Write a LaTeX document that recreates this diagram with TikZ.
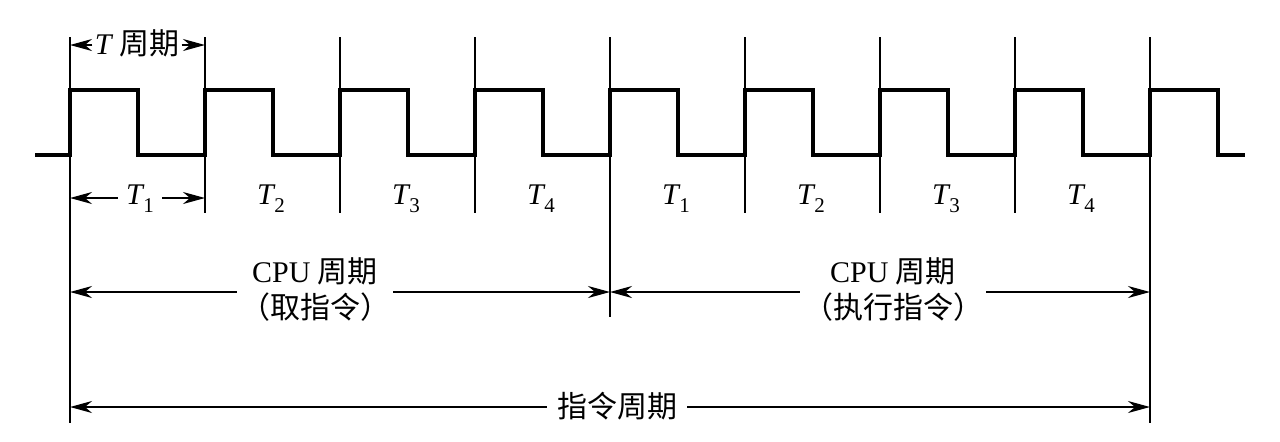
\documentclass[tikz,border=0pt]{standalone}
\usepackage{fontspec}
\setmainfont{Liberation Serif}
\newfontfamily\cjk{Noto Sans CJK SC}
\usetikzlibrary{arrows.meta}
\newcommand\Tsub[1]{\textit{T}\kern-0.04em\raisebox{-4pt}{\fontsize{10.5}{10.5}\selectfont #1}}
\begin{document}
\begin{tikzpicture}[x=0.5pt,y=-0.5pt,
  sig/.style={line width=1.6pt, line join=miter},
  tickline/.style={line width=0.8pt},
  dim/.style={line width=0.9pt, -{Stealth[length=11pt,width=6pt,inset=3.5pt]}},
  lbl/.style={font=\fontsize{15}{17}\selectfont, inner sep=1.5pt},
  big/.style={font=\fontsize{15}{18}\selectfont, inner sep=1.5pt, align=center}]
\useasboundingbox (0,0) rectangle (1280,441);

% vertical guide lines
\foreach \i in {0,...,8} {
  \coordinate (t\i) at ({70+135*\i},37);
}
\foreach \i in {1,2,3,5,6,7} { \coordinate (b\i) at ({70+135*\i},213); }
\coordinate (b0) at (70,423);
\coordinate (b4) at (610,317);
\coordinate (b8) at (1150,423);
\foreach \i in {0,...,8} { \draw[tickline] (t\i) -- (b\i); }

% clock signal
\draw[sig] (35,155) foreach \i in {0,...,8} {
   -- ({70+135*\i},155) -- ({70+135*\i},90) -- ({138+135*\i},90) -- ({138+135*\i},155) }
   -- (1245,155);

% T period
\node[lbl, inner sep=1pt] (Tp) at (137,43) {\textit{T}\kern3pt{\cjk 周期}};
\coordinate (tpL) at (70,45);
\coordinate (tpR) at (205,45);
\draw[dim] (Tp.west |- tpL) -- (tpL);
\draw[dim] (Tp.east |- tpR) -- (tpR);

% T1 with arrows
\node[lbl, inner sep=4pt] (T1a) at (140,199) {\Tsub{1}};
\coordinate (t1L) at (70,198);
\coordinate (t1R) at (205,198);
\draw[dim] (T1a.west |- t1L) -- (t1L);
\draw[dim] (T1a.east |- t1R) -- (t1R);

% other T labels
\node[lbl] (T2a) at (271,199) {\Tsub{2}};
\node[lbl] (T3a) at (406,199) {\Tsub{3}};
\node[lbl] (T4a) at (541,199) {\Tsub{4}};
\node[lbl] (T1b) at (676,199) {\Tsub{1}};
\node[lbl] (T2b) at (811,199) {\Tsub{2}};
\node[lbl] (T3b) at (946,199) {\Tsub{3}};
\node[lbl] (T4b) at (1081,199) {\Tsub{4}};

% CPU cycles
\node[big] (cpu1) at (315,290) {CPU {\cjk 周期}\\{\cjk （取指令）}};
\node[big] (cpu2) at (893,290) {CPU {\cjk 周期}\\{\cjk （执行指令）}};
\coordinate (c0) at (70,292);
\coordinate (c4) at (610,292);
\coordinate (c8) at (1150,292);
\draw[dim] (cpu1.west |- c0) -- (c0);
\draw[dim] (cpu1.east |- c4) -- (c4);
\draw[dim] (cpu2.west |- c4) -- (c4);
\draw[dim] (cpu2.east |- c8) -- (c8);

% instruction cycle
\node[big, inner sep=5pt] (ins) at (617,406) {\cjk 指令周期};
\coordinate (i0) at (70,407);
\coordinate (i8) at (1150,407);
\draw[dim] (ins.west |- i0) -- (i0);
\draw[dim] (ins.east |- i8) -- (i8);
\end{tikzpicture}
\end{document}
